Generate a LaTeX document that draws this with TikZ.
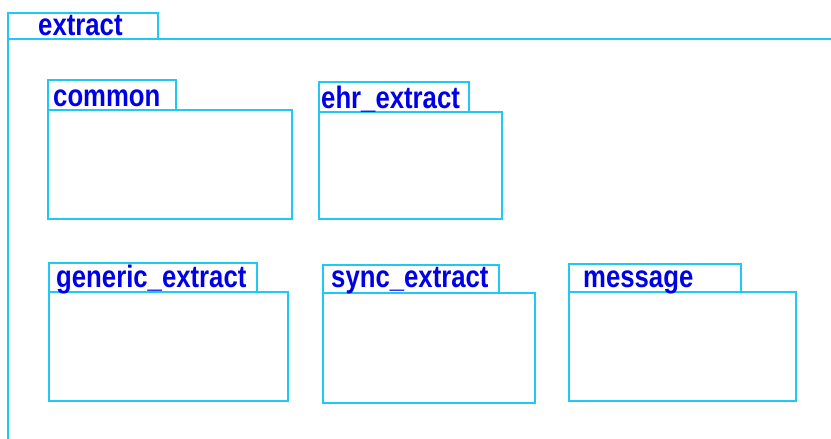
\documentclass[tikz,border=0pt]{standalone}
\usepackage{fontspec}
\usepackage[dvipsnames]{xcolor}
\newfontfamily\pkgfont[FakeStretch=0.83]{Liberation Sans}
\definecolor{pkgline}{RGB}{32,200,245}
\definecolor{pkgtext}{RGB}{0,0,230}
\usetikzlibrary{positioning,calc}

\tikzset{
  pkgbox/.style={draw=pkgline,line width=2pt},
  pkgname/.style={pkgtext,inner sep=0pt,anchor=base west,font=\pkgfont\bfseries\fontsize{31}{31}\selectfont}
}

\begin{document}
\begin{tikzpicture}[x=1pt,y=-1pt]
      \useasboundingbox (0,0) rectangle (831,439);

      % outer package
      \draw[pkgbox] (8,13) rectangle (158,39);
      \draw[pkgbox] (831,39) -- (8,39) -- (8,439);
      \node[pkgname] (extract) at (38,35) {extract};

      % first row
      \draw[pkgbox] (48,80) rectangle (176,110);
      \draw[pkgbox] (48,110) rectangle (292,219);
      \node[pkgname] (common) at (53,106) {common};

      \draw[pkgbox] (319,82) rectangle (469,112);
      \draw[pkgbox] (319,112) rectangle (502,219);
      \node[pkgname] (ehr) at (321,108) {ehr\_extract};

      % second row
      \draw[pkgbox] (49,263) rectangle (257,292);
      \draw[pkgbox] (49,292) rectangle (288,401);
      \node[pkgname] (generic) at (56,287) {generic\_extract};

      \draw[pkgbox] (323,265) rectangle (499,293);
      \draw[pkgbox] (323,293) rectangle (535,403);
      \node[pkgname] (sync) at (331,287) {sync\_extract};

      \draw[pkgbox] (569,264) rectangle (741,292);
      \draw[pkgbox] (569,292) rectangle (796,401);
      \node[pkgname] (message) at (583,287) {message};
\end{tikzpicture}
\end{document}
